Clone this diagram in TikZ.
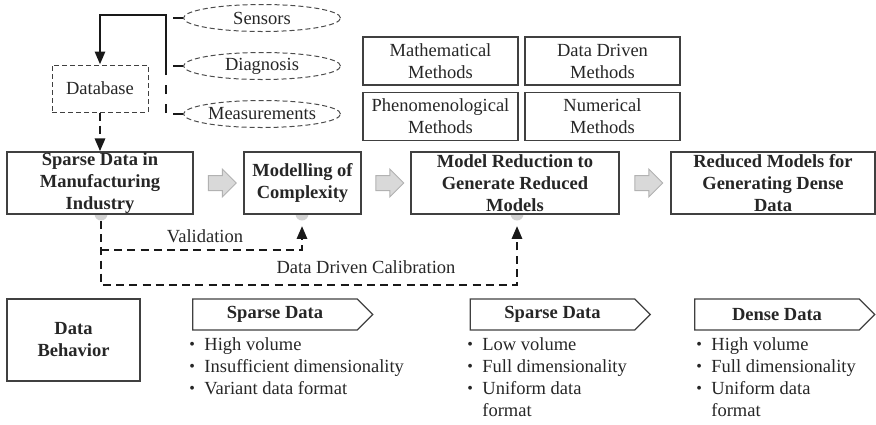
\documentclass[tikz,border=0pt]{standalone}
\usepackage{fontspec}
\setmainfont{Liberation Serif}
\usetikzlibrary{positioning,calc,arrows.meta,shapes.geometric,shapes.arrows,shapes.symbols,backgrounds}

\newcommand{\itembul}{\makebox[7.5pt][l]{\raisebox{0.6pt}{\footnotesize\textbullet}}}

\begin{document}
\begin{tikzpicture}[x=0.5pt,y=-0.5pt,
    every node/.style={font=\fontsize{9.25}{11}\selectfont, text=black!85},
    mainbox/.style={draw=black!75, line width=0.6pt, fill=white, minimum height=31pt, inner sep=0pt, align=center, font=\fontsize{9.25}{11}\selectfont\bfseries},
    methbox/.style={draw=black!75, line width=0.6pt, minimum width=77.5pt, minimum height=24pt, inner sep=0pt, align=center},
    srcell/.style={ellipse, draw=black!70, line width=0.5pt, dash pattern=on 2.5pt off 1.5pt, minimum width=78.5pt, minimum height=13.5pt, inner sep=0pt},
    tagbox/.style={signal, signal to=east, draw=black!75, line width=0.6pt, minimum width=90pt, minimum height=15.5pt, inner sep=0pt, font=\fontsize{9.25}{11}\selectfont\bfseries},
    lst/.style={align=left, inner sep=0pt, anchor=north west},
    grayarr/.style={single arrow, draw=gray!60, fill=gray!30, line width=0.5pt, minimum height=14pt, minimum width=13.5pt, inner sep=3.5pt, single arrow head extend=3.25pt},
    dotc/.style={circle, fill=gray!35, draw=none, minimum size=6.5pt, inner sep=0pt},
    thk/.style={line width=1.4pt, black!90},
    dline/.style={line width=1.4pt, black!90, dash pattern=on 4pt off 2.6pt},
    tip/.style={-{Triangle[length=6.5pt,width=5pt]}}
]
\useasboundingbox (0,0) rectangle (876,424);

% sources of the database
\node[srcell] (sens) at (262,18) {Sensors};
\node[srcell] (diag) at (262,66) {Diagnosis};
\node[srcell] (meas) at (262,114) {Measurements};
\foreach \s in {sens,diag,meas}
    \draw[thk] (\s.west) -- ++(-10,0);

\node[draw=black!75, line width=0.5pt, dash pattern=on 2.5pt off 1.5pt, minimum width=48pt, minimum height=23.5pt, inner sep=0pt] (db) at (100,88.5) {Database};

\coordinate (bustop) at (166,15);
\coordinate (busmid) at (166,75);
\coordinate (busbot) at (166,113);
\draw[thk, dash pattern=on 4.5pt off 5pt] (busbot) -- (busmid);
\draw[thk, tip] (busmid) -- (bustop) -| (db.north);

% main chain
\node[mainbox, minimum width=93pt] (b1) at (100,183) {Sparse Data in\\Manufacturing\\Industry};
\node[mainbox, minimum width=58.5pt] (b2) at (302.5,183) {Modelling of\\Complexity};
\node[mainbox, minimum width=104pt] (b3) at (515,183) {Model Reduction to\\Generate Reduced\\Models};
\node[mainbox, minimum width=102pt] (b4) at (773,183) {Reduced Models for\\Generating Dense\\Data};

\draw[dline, tip] (db.south) -- (b1.north);

\node[grayarr] (ar1) at ($(b1.east)!0.5!(b2.west)$) {};
\node[grayarr] (ar2) at ($(b2.east)!0.5!(b3.west)$) {};
\node[grayarr] (ar3) at ($(b3.east)!0.5!(b4.west)$) {};

\begin{scope}[on background layer]
    \node[dotc] (c1) at (101,214) {};
    \node[dotc] (c2) at (302,214) {};
    \node[dotc] (c3) at (517,214) {};
\end{scope}

% methods
\node[methbox] (m1) at (440.5,61) {Mathematical\\Methods};
\node[methbox] (m2) at (602.5,61) {Data Driven\\Methods};
\node[methbox] (m3) at (440.5,116.5) {Phenomenological\\Methods};
\node[methbox] (m4) at (602.5,116.5) {Numerical\\Methods};

% feedback loops
\coordinate (vsplit) at (c1.south |- 0,250);
\draw[dline, tip] (c1.south) |- (c3.south |- 0,285) -- ($(c3.south)+(0,5)$);
\draw[dline, tip] (vsplit) -| ($(c2.south)+(0,5)$);
\node (val) at (205,236) {Validation};
\node (cal) at (366,267) {Data Driven Calibration};

% data behaviour
\node[draw=black!75, line width=0.6pt, minimum width=66.5pt, minimum height=41pt, inner sep=0pt, align=center, font=\fontsize{9.25}{11}\selectfont\bfseries] (beh) at (73.5,340) {Data\\Behavior};

\node[tagbox] (t1) at (275,314.5) {Sparse Data};
\node[tagbox] (t2) at (552.5,314.5) {Sparse Data};
\node[tagbox] (t3) at (777,314.5) {Dense Data};

\node[lst] (l1) at (189,337) {\itembul High volume\\\itembul Insufficient dimensionality\\\itembul Variant data format};
\node[lst] (l2) at (467,337) {\itembul Low volume\\\itembul Full dimensionality\\\itembul Uniform data\\\phantom{\itembul}format};
\node[lst] (l3) at (696,337) {\itembul High volume\\\itembul Full dimensionality\\\itembul Uniform data\\\phantom{\itembul}format};
\end{tikzpicture}
\end{document}
